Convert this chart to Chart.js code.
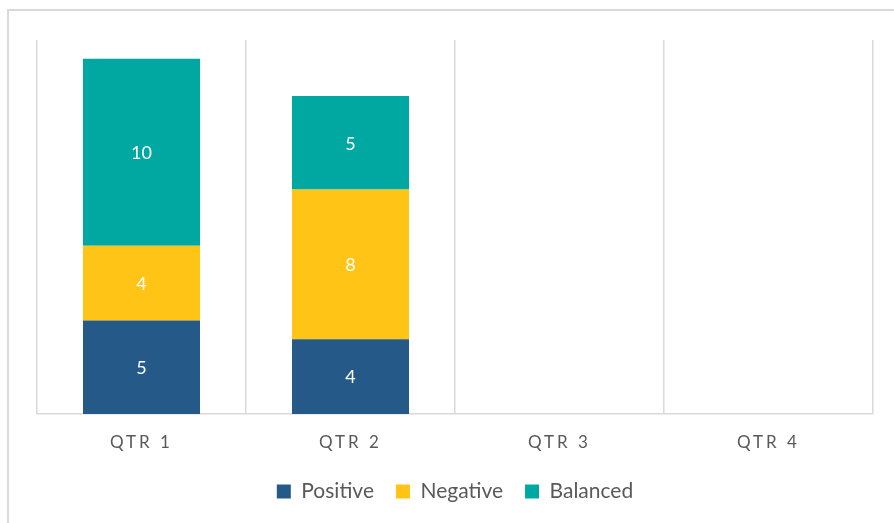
<!DOCTYPE html>
<html>
<head>
<meta charset="utf-8">
<script src="https://cdn.jsdelivr.net/npm/chart.js@4/dist/chart.umd.min.js"></script>
<style>
  html, body { margin: 0; padding: 0; background: #fff; overflow: hidden; }
  #wrap { position: relative; width: 894px; height: 523px; }
  #frame { position: absolute; left: 7px; top: 9px; width: 960px; height: 600px;
           border-left: 2px solid #d9d9d9; border-top: 2px solid #d9d9d9; pointer-events: none; }
  canvas { position: absolute; left: 0; top: 0; }
</style>
</head>
<body>
<div id="wrap">
  <canvas id="c" width="894" height="523"></canvas>
  <div id="frame"></div>
</div>
<script>
const categories = ["QTR 1", "QTR 2", "QTR 3", "QTR 4"];
const positive = [5, 4, null, null];
const negative = [4, 8, null, null];
const balanced = [10, 5, null, null];
const seriesNames = ["Positive", "Negative", "Balanced"];
const yMax = 20;

const FONT = "Lato, 'Open Sans', sans-serif";

const labelPlugin = {
  id: 'segLabels',
  afterDatasetsDraw(chart) {
    const ctx = chart.ctx;
    ctx.save();
    ctx.letterSpacing = '0px';
    ctx.fillStyle = '#ffffff';
    ctx.font = '18px ' + FONT;
    ctx.textAlign = 'center';
    ctx.textBaseline = 'middle';
    chart.data.datasets.forEach((ds, i) => {
      const meta = chart.getDatasetMeta(i);
      meta.data.forEach((bar, j) => {
        const v = ds.data[j];
        if (v == null) return;
        ctx.fillText(String(v), bar.x, (bar.y + bar.base) / 2 + 1);
      });
    });
    ctx.restore();
    chart.ctx.letterSpacing = '3px';
  },
  afterDraw(chart) {
    chart.ctx.letterSpacing = '0px';
  }
};

new Chart(document.getElementById('c'), {
  type: 'bar',
  data: {
    labels: categories,
    datasets: [
      { label: seriesNames[0], data: positive, backgroundColor: '#255a88' },
      { label: seriesNames[1], data: negative, backgroundColor: '#ffc416' },
      { label: seriesNames[2], data: balanced, backgroundColor: '#00a8a1' }
    ]
  },
  options: {
    responsive: false,
    animation: false,
    devicePixelRatio: 1,
    layout: { padding: { left: 37, right: 21, top: 40, bottom: 11 } },
    datasets: { bar: { barPercentage: 0.56, categoryPercentage: 1.0, borderWidth: 0 } },
    scales: {
      x: {
        stacked: true,
        grid: { offset: true, color: '#d9d9d9', lineWidth: 1.5, drawTicks: false },
        border: { color: '#d9d9d9', width: 1.5 },
        ticks: { color: '#595959', font: { family: FONT, size: 17 }, padding: 18, z: 1 },
        afterFit(scale) { scale.height = 45; }
      },
      y: {
        stacked: true, display: false, min: 0, max: yMax
      }
    },
    plugins: {
      legend: {
        position: 'bottom',
        labels: {
          color: '#595959', font: { family: FONT, size: 21 },
          boxWidth: 14, boxHeight: 14, padding: 22
        }
      },
      tooltip: { enabled: false }
    }
  },
  plugins: [labelPlugin]
});
</script>
</body>
</html>
